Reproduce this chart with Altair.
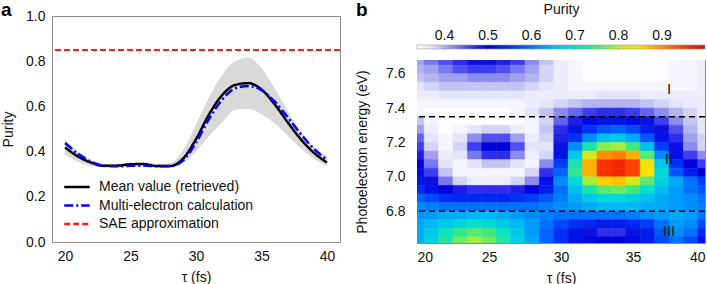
import altair as alt
import pandas as pd

# ---------------- panel a: purity versus delay ----------------
tau = [20, 21, 22, 23, 24, 25, 26, 27, 28, 29, 30, 31, 32, 33, 34, 35, 36, 37, 38, 39, 40]
mean_purity = [0.418, 0.378, 0.351, 0.337, 0.338, 0.344, 0.345, 0.336, 0.336, 0.368, 0.455, 0.565,
               0.650, 0.695, 0.703, 0.675, 0.610, 0.530, 0.455, 0.395, 0.352]
multi_purity = [0.438, 0.390, 0.355, 0.337, 0.335, 0.337, 0.338, 0.335, 0.335, 0.360, 0.440, 0.545,
                0.630, 0.680, 0.690, 0.672, 0.622, 0.552, 0.478, 0.413, 0.365]
band_low = [0.385, 0.355, 0.335, 0.330, 0.330, 0.335, 0.335, 0.330, 0.330, 0.348, 0.400, 0.470,
            0.530, 0.585, 0.590, 0.565, 0.525, 0.470, 0.415, 0.370, 0.335]
band_high = [0.455, 0.400, 0.362, 0.345, 0.345, 0.352, 0.352, 0.345, 0.348, 0.405, 0.520, 0.640,
             0.740, 0.800, 0.815, 0.770, 0.680, 0.580, 0.490, 0.420, 0.380]
sae_purity = 0.85

series_names = ["Mean value (retrieved)", "Multi-electron calculation", "SAE approximation"]
series_colors = ["#000000", "#0000ff", "#ff1a1a"]
series_dash = [[1, 0], [9, 3, 2, 3], [6, 3]]

# ---------------- panel b: purity map ----------------
energy = [7.675, 7.625, 7.575, 7.525, 7.475, 7.425, 7.375, 7.325, 7.275, 7.225, 7.175,
          7.125, 7.075, 7.025, 6.975, 6.925, 6.875, 6.825, 6.775, 6.725, 6.675, 6.625]
purity_map = [
    [0.41, 0.43, 0.45, 0.47, 0.49, 0.49, 0.48, 0.46, 0.42, 0.39, 0.36, 0.35, 0.34, 0.34, 0.34, 0.34, 0.34, 0.34, 0.35, 0.35, 0.36],
    [0.40, 0.41, 0.43, 0.45, 0.46, 0.46, 0.45, 0.43, 0.41, 0.38, 0.36, 0.35, 0.34, 0.34, 0.34, 0.34, 0.34, 0.34, 0.35, 0.35, 0.36],
    [0.39, 0.40, 0.41, 0.41, 0.42, 0.42, 0.42, 0.41, 0.40, 0.38, 0.36, 0.35, 0.34, 0.34, 0.34, 0.34, 0.34, 0.34, 0.35, 0.35, 0.36],
    [0.37, 0.38, 0.39, 0.39, 0.39, 0.39, 0.39, 0.39, 0.38, 0.37, 0.36, 0.35, 0.35, 0.35, 0.35, 0.35, 0.35, 0.35, 0.35, 0.35, 0.36],
    [0.36, 0.36, 0.37, 0.37, 0.37, 0.37, 0.37, 0.37, 0.36, 0.36, 0.36, 0.36, 0.36, 0.37, 0.37, 0.37, 0.36, 0.36, 0.36, 0.36, 0.36],
    [0.35, 0.35, 0.35, 0.35, 0.35, 0.35, 0.35, 0.35, 0.36, 0.37, 0.38, 0.39, 0.40, 0.40, 0.40, 0.40, 0.39, 0.38, 0.37, 0.36, 0.36],
    [0.35, 0.34, 0.34, 0.34, 0.34, 0.34, 0.34, 0.35, 0.37, 0.39, 0.42, 0.44, 0.46, 0.47, 0.47, 0.46, 0.44, 0.42, 0.40, 0.38, 0.36],
    [0.39, 0.35, 0.34, 0.34, 0.34, 0.34, 0.34, 0.34, 0.35, 0.38, 0.44, 0.48, 0.51, 0.52, 0.52, 0.51, 0.49, 0.46, 0.42, 0.39, 0.37],
    [0.41, 0.36, 0.34, 0.35, 0.37, 0.38, 0.38, 0.36, 0.35, 0.39, 0.47, 0.52, 0.55, 0.58, 0.59, 0.57, 0.53, 0.49, 0.45, 0.40, 0.37],
    [0.44, 0.37, 0.35, 0.37, 0.42, 0.45, 0.45, 0.41, 0.36, 0.38, 0.48, 0.55, 0.62, 0.66, 0.67, 0.64, 0.58, 0.52, 0.47, 0.41, 0.38],
    [0.46, 0.38, 0.35, 0.38, 0.46, 0.50, 0.50, 0.45, 0.37, 0.37, 0.49, 0.62, 0.72, 0.78, 0.79, 0.75, 0.66, 0.56, 0.49, 0.42, 0.38],
    [0.48, 0.41, 0.36, 0.37, 0.43, 0.47, 0.47, 0.42, 0.36, 0.38, 0.52, 0.67, 0.82, 0.90, 0.91, 0.88, 0.76, 0.62, 0.52, 0.46, 0.42],
    [0.50, 0.43, 0.37, 0.35, 0.37, 0.39, 0.39, 0.37, 0.35, 0.42, 0.56, 0.72, 0.88, 0.96, 0.97, 0.95, 0.84, 0.67, 0.55, 0.50, 0.46],
    [0.51, 0.46, 0.39, 0.35, 0.35, 0.35, 0.35, 0.35, 0.38, 0.47, 0.59, 0.74, 0.88, 0.96, 0.97, 0.95, 0.85, 0.69, 0.58, 0.53, 0.50],
    [0.52, 0.49, 0.43, 0.38, 0.36, 0.36, 0.36, 0.38, 0.42, 0.52, 0.62, 0.69, 0.79, 0.86, 0.87, 0.82, 0.76, 0.68, 0.64, 0.60, 0.56],
    [0.55, 0.52, 0.50, 0.48, 0.47, 0.47, 0.47, 0.48, 0.50, 0.53, 0.60, 0.66, 0.72, 0.76, 0.77, 0.75, 0.70, 0.66, 0.63, 0.60, 0.58],
    [0.59, 0.57, 0.55, 0.54, 0.54, 0.54, 0.54, 0.55, 0.56, 0.58, 0.61, 0.64, 0.67, 0.69, 0.69, 0.68, 0.66, 0.64, 0.63, 0.62, 0.60],
    [0.62, 0.61, 0.60, 0.60, 0.60, 0.60, 0.60, 0.60, 0.60, 0.61, 0.62, 0.63, 0.64, 0.65, 0.65, 0.65, 0.64, 0.64, 0.63, 0.62, 0.61],
    [0.63, 0.63, 0.64, 0.64, 0.65, 0.65, 0.64, 0.63, 0.62, 0.61, 0.60, 0.60, 0.60, 0.60, 0.60, 0.61, 0.62, 0.63, 0.64, 0.63, 0.60],
    [0.64, 0.65, 0.67, 0.69, 0.70, 0.69, 0.67, 0.65, 0.63, 0.60, 0.57, 0.55, 0.54, 0.53, 0.53, 0.54, 0.56, 0.60, 0.63, 0.62, 0.57],
    [0.64, 0.67, 0.71, 0.74, 0.76, 0.75, 0.71, 0.67, 0.63, 0.59, 0.55, 0.52, 0.49, 0.47, 0.47, 0.49, 0.53, 0.58, 0.62, 0.60, 0.54],
    [0.64, 0.68, 0.73, 0.77, 0.79, 0.77, 0.73, 0.68, 0.64, 0.59, 0.55, 0.52, 0.51, 0.50, 0.50, 0.51, 0.53, 0.57, 0.60, 0.57, 0.52],
]
region_cuts = [7.35, 6.8]
region_names = ["I", "II", "III"]
region_tau = [37.5, 37.5, 37.5]
region_energy = [7.51, 7.105, 6.687]

# colormap: white -> blue -> cyan -> green -> yellow -> red
cmap_levels = [0.338, 0.37, 0.40, 0.43, 0.46, 0.50, 0.55, 0.60, 0.65, 0.70, 0.75, 0.80, 0.85, 0.90, 0.95, 1.00]
cmap_colors = ["#ffffff", "#e4e4fa", "#b4b4f0", "#7878ee", "#3c3cf0", "#0000dc", "#0030f8", "#0070ff",
               "#00b8f8", "#00e0d0", "#40e880", "#b8f030", "#ffe000", "#ff9000", "#ff4000", "#e00000"]
cbar_ticks = [0.4, 0.5, 0.6, 0.7, 0.8, 0.9]

FONT = "Liberation Sans"
FS = 14

# ---------------- tables ----------------
band_df = pd.DataFrame({"tau": tau, "lo": band_low, "hi": band_high})
line_df = pd.concat([
    pd.DataFrame({"tau": tau, "purity": mean_purity, "series": series_names[0]}),
    pd.DataFrame({"tau": tau, "purity": multi_purity, "series": series_names[1]}),
])
sae_df = pd.DataFrame({"purity": [sae_purity], "series": [series_names[2]]})

heat_rows = []
for e, row in zip(energy, purity_map):
    for t, p in zip(tau, row):
        heat_rows.append({"t0": t - 0.5, "t1": t + 0.5, "e0": e - 0.025, "e1": e + 0.025, "p": p})
heat_df = pd.DataFrame(heat_rows)
cut_df = pd.DataFrame({"E": region_cuts})
name_df = pd.DataFrame({"tau": region_tau, "E": region_energy, "label": region_names})

# ---------------- panel a ----------------
x_a = alt.X("tau:Q", scale=alt.Scale(domain=[19, 41], nice=False),
            axis=alt.Axis(values=[20, 25, 30, 35, 40], title="τ (fs)"))
y_a = alt.Y("lo:Q", scale=alt.Scale(domain=[0, 1], nice=False),
            axis=alt.Axis(values=[0, 0.2, 0.4, 0.6, 0.8, 1.0], format=".1f", title="Purity",
                          titlePadding=10))

# one legend (on the dash channel); each key is stroked in its series colour
key_colour = "'" + series_colors[-1] + "'"
for name, col in reversed(list(zip(series_names[:-1], series_colors[:-1]))):
    key_colour = f"datum.value === '{name}' ? '{col}' : ({key_colour})"

legend_a = alt.Legend(orient="none", legendX=11, legendY=163, title=None, symbolType="stroke",
                      symbolSize=650, symbolStrokeWidth=2.5, symbolOpacity=1,
                      symbolStrokeColor=alt.ExprRef(key_colour), clipHeight=16,
                      labelFontSize=FS, labelFont=FONT, labelOffset=8, rowPadding=2.5,
                      labelColor="#111")
color_scale = alt.Scale(domain=series_names, range=series_colors)
dash_scale = alt.Scale(domain=series_names, range=series_dash)

band = alt.Chart(band_df).mark_area(color="#d9d9d9", interpolate="monotone").encode(
    x=x_a, y=y_a, y2="hi:Q")
lines = alt.Chart(line_df).mark_line(interpolate="monotone", strokeWidth=2.5).encode(
    x="tau:Q", y="purity:Q",
    color=alt.Color("series:N", scale=color_scale, legend=None),
    strokeDash=alt.StrokeDash("series:N", scale=dash_scale, legend=legend_a))
sae = alt.Chart(sae_df).mark_rule(strokeWidth=2).encode(
    y="purity:Q",
    color=alt.Color("series:N", scale=color_scale, legend=None),
    strokeDash=alt.StrokeDash("series:N", scale=dash_scale, legend=None))
tag_a = alt.Chart(pd.DataFrame({"t": ["a"]})).mark_text(
    fontSize=19, fontWeight="bold", align="left", baseline="top", font=FONT).encode(
    x=alt.value(-51), y=alt.value(-15), text="t:N")

panel_a = alt.layer(band, lines, sae, tag_a).properties(width=288, height=226)

# ---------------- panel b ----------------
cscale = alt.Scale(domain=cmap_levels, range=cmap_colors, interpolate="rgb")
x_b = alt.X("t0:Q", scale=alt.Scale(domain=[20, 40], nice=False),
            axis=alt.Axis(values=[20, 25, 30, 35, 40], title="τ (fs)"))
y_b = alt.Y("e0:Q", scale=alt.Scale(domain=[6.615, 7.68], nice=False),
            axis=alt.Axis(values=[6.8, 7.0, 7.2, 7.4, 7.6], format=".1f",
                          title="Photoelectron energy (eV)", labelPadding=12, titlePadding=16))

heat = alt.Chart(heat_df).mark_rect(clip=True, strokeWidth=0.6).encode(
    x=x_b, x2="t1:Q", y=y_b, y2="e1:Q",
    color=alt.Color("p:Q", scale=cscale, legend=None),
    stroke=alt.Stroke("p:Q", scale=cscale, legend=None))
cuts = alt.Chart(cut_df).mark_rule(color="black", strokeWidth=1.5, strokeDash=[6, 4]).encode(
    y="E:Q")
names = alt.Chart(name_df).mark_text(fontSize=15, color="#1a1a1a", font=FONT).encode(
    x="tau:Q", y="E:Q", text="label:N")
tag_b = alt.Chart(pd.DataFrame({"t": ["b"]})).mark_text(
    fontSize=19, fontWeight="bold", align="left", baseline="top", font=FONT).encode(
    x=alt.value(-61), y=alt.value(-59), text="t:N")

# colour bar drawn as one rect filled with the map's own gradient
lo, hi = cmap_levels[0], cmap_levels[-1]
stops = [{"offset": (v - lo) / (hi - lo), "color": c} for v, c in zip(cmap_levels, cmap_colors)]
cbar_df = pd.DataFrame({"lo": [lo], "hi": [hi]})
cbar = alt.Chart(cbar_df).mark_rect(stroke="#9a9a9a", strokeWidth=0.6).encode(
    x=alt.X("lo:Q", scale=alt.Scale(domain=[lo, hi], nice=False, zero=False),
            axis=alt.Axis(orient="top", values=cbar_ticks, format=".1f", title="Purity",
                          offset=11, ticks=True, tickSize=4, tickColor="#444", domain=False,
                          labelPadding=3, titlePadding=12, grid=False)),
    x2="hi:Q",
    y=alt.value(-15), y2=alt.value(-11),
    fill=alt.value({"gradient": "linear", "x1": 0, "y1": 0, "x2": 1, "y2": 0, "stops": stops}))

panel_b = alt.layer(alt.layer(heat, cuts, names, tag_b), cbar).resolve_scale(
    x="independent").properties(width=288, height=183)

# empty strip that lowers the map below the colour bar
spacer = alt.Chart(pd.DataFrame({"v": [0]})).mark_point(opacity=0).encode(
    x=alt.value(0), y=alt.value(0)
).properties(width=288, height=44, view=alt.ViewBackground(stroke="transparent"))

right = alt.vconcat(spacer, panel_b, spacing=0, bounds="flush")

chart = alt.hconcat(panel_a, right, spacing=13).properties(
    padding=0
).configure(font=FONT).configure_view(
    stroke="#8c8c8c", strokeWidth=1
).configure_axis(
    grid=False, domain=False, ticks=False, labelFontSize=FS, titleFontSize=FS,
    labelFont=FONT, titleFont=FONT, labelColor="#111", titleColor="#111",
    titleFontWeight="normal", labelPadding=7, titlePadding=7
)

chart.save("out.html", embed_options={"renderer": "svg", "actions": False})
